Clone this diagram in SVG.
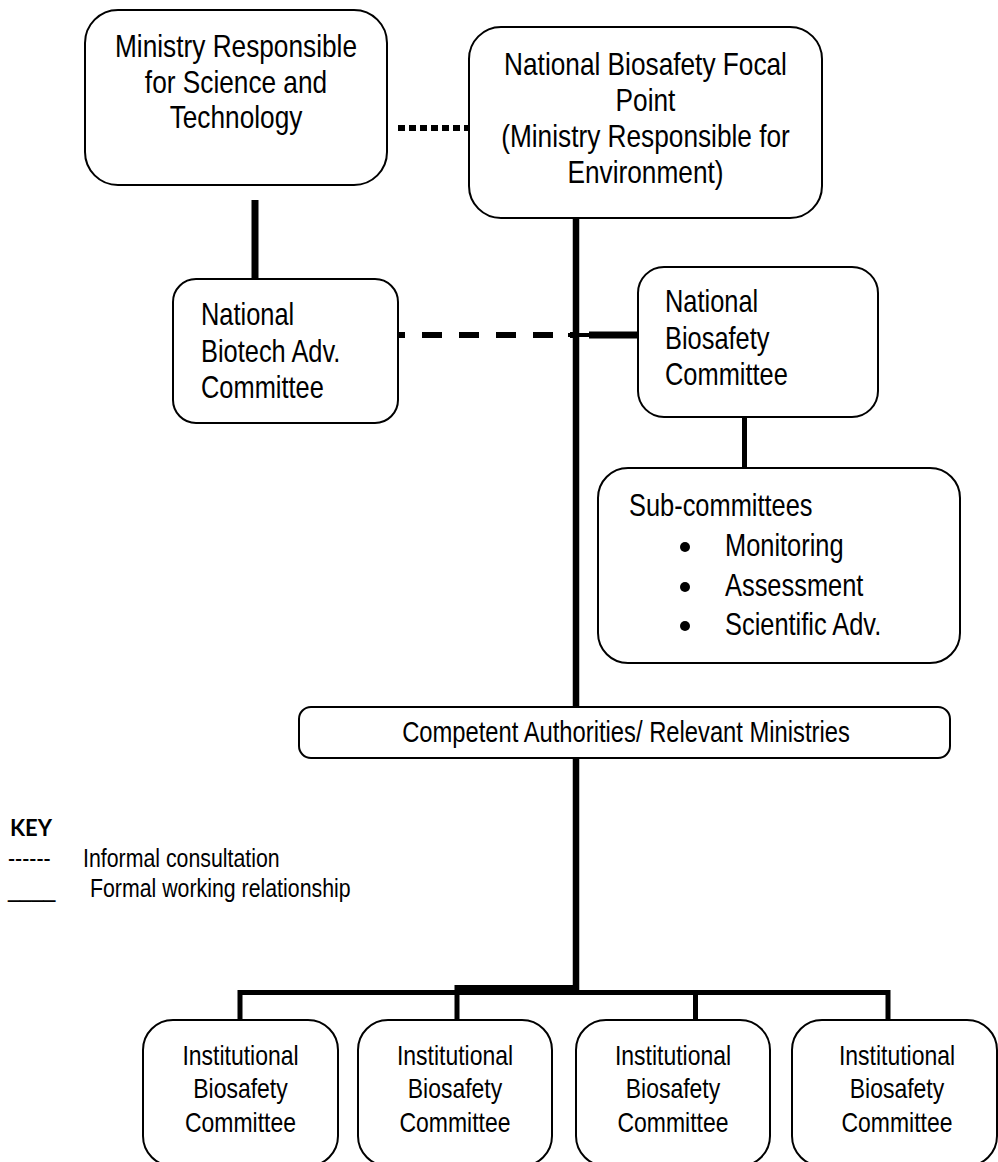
<svg xmlns="http://www.w3.org/2000/svg" width="998" height="1162" viewBox="0 0 998 1162">
<style>
.box{fill:#fff;stroke:#000;stroke-width:2}
.t{font-family:'Liberation Sans','Arimo',Arial,sans-serif;fill:#000}
.c{text-anchor:middle}
.big{font-size:32px}
.mid{font-size:31px}
.sm{font-size:28px}
.key{font-size:26px}
.ln{stroke:#000;fill:none}
</style>
<rect width="998" height="1162" fill="#fff"/>
<g id="connectors">
  <line class="ln" x1="398" y1="128" x2="475" y2="128" stroke-width="6" stroke-dasharray="7 4"/>
  <line class="ln" x1="255" y1="200" x2="255" y2="293" stroke-width="7"/>
  <line class="ln" x1="576" y1="216" x2="576" y2="708" stroke-width="6.5"/>
  <line class="ln" x1="398" y1="335" x2="575" y2="335" stroke-width="6" stroke-dasharray="20 17" stroke-dashoffset="13"/>
  <line class="ln" x1="568" y1="335" x2="590" y2="335" stroke-width="4"/>
  <line class="ln" x1="589" y1="335" x2="639" y2="335" stroke-width="7"/>
  <line class="ln" x1="744.5" y1="400" x2="744.5" y2="469" stroke-width="5"/>
  <line class="ln" x1="576" y1="757" x2="576" y2="990" stroke-width="6.5"/>
  <polyline class="ln" points="457,1020 457,987.5 578,987.5" stroke-width="5"/>
  <polyline class="ln" points="240,1020 240,992.5 888,992.5 888,1020" stroke-width="5"/>
  <line class="ln" x1="695.5" y1="992.5" x2="695.5" y2="1020" stroke-width="5"/>
</g>
<g id="n-ministry-st">
  <rect class="box" x="85" y="10" width="302" height="175" rx="33"/>
  <g transform="translate(236 0) scale(0.82 1)">
    <text class="t c big" x="0" y="57">Ministry Responsible</text>
    <text class="t c big" x="0" y="93">for Science and</text>
    <text class="t c big" x="0" y="128">Technology</text>
  </g>
</g>
<g id="n-focal-point">
  <rect class="box" x="469" y="27" width="353" height="191" rx="32"/>
  <g transform="translate(645.5 0) scale(0.82 1)">
    <text class="t c big" x="0" y="75">National Biosafety Focal</text>
    <text class="t c big" x="0" y="111">Point</text>
    <text class="t c big" x="0" y="147">(Ministry Responsible for</text>
    <text class="t c big" x="0" y="183">Environment)</text>
  </g>
</g>
<g id="n-biotech-adv">
  <rect class="box" x="173" y="279" width="225" height="144" rx="23"/>
  <g transform="translate(201 0) scale(0.82 1)">
    <text class="t mid" x="0" y="325">National</text>
    <text class="t mid" x="0" y="362">Biotech Adv.</text>
    <text class="t mid" x="0" y="398">Committee</text>
  </g>
</g>
<g id="n-biosafety-committee">
  <rect class="box" x="638" y="267" width="240" height="150" rx="26"/>
  <g transform="translate(665 0) scale(0.82 1)">
    <text class="t mid" x="0" y="312">National</text>
    <text class="t mid" x="0" y="349">Biosafety</text>
    <text class="t mid" x="0" y="385">Committee</text>
  </g>
</g>
<g id="n-subcommittees">
  <rect class="box" x="598" y="468" width="362" height="195" rx="30"/>
  <circle cx="685" cy="547" r="5"/>
  <circle cx="685" cy="587" r="5"/>
  <circle cx="685" cy="626" r="5"/>
  <g transform="translate(629 0) scale(0.82 1)">
    <text class="t mid" x="0" y="516">Sub-committees</text>
  </g>
  <g transform="translate(725 0) scale(0.82 1)">
    <text class="t mid" x="0" y="556">Monitoring</text>
    <text class="t mid" x="0" y="596">Assessment</text>
    <text class="t mid" x="0" y="635">Scientific Adv.</text>
  </g>
</g>
<g id="n-competent">
  <rect class="box" x="299" y="707" width="651" height="51" rx="12"/>
  <g transform="translate(626 0) scale(0.82 1)">
    <text class="t c" font-size="29" x="0" y="742">Competent Authorities/ Relevant Ministries</text>
  </g>
</g>
<g id="n-ibc-1">
  <rect class="box" x="143" y="1020" width="195" height="146" rx="30"/>
  <g transform="translate(240.5 0) scale(0.82 1)">
    <text class="t c sm" x="0" y="1065">Institutional</text>
    <text class="t c sm" x="0" y="1098">Biosafety</text>
    <text class="t c sm" x="0" y="1132">Committee</text>
  </g>
</g>
<g id="n-ibc-2">
  <rect class="box" x="358" y="1020" width="194" height="146" rx="30"/>
  <g transform="translate(455 0) scale(0.82 1)">
    <text class="t c sm" x="0" y="1065">Institutional</text>
    <text class="t c sm" x="0" y="1098">Biosafety</text>
    <text class="t c sm" x="0" y="1132">Committee</text>
  </g>
</g>
<g id="n-ibc-3">
  <rect class="box" x="576" y="1020" width="194" height="146" rx="30"/>
  <g transform="translate(673 0) scale(0.82 1)">
    <text class="t c sm" x="0" y="1065">Institutional</text>
    <text class="t c sm" x="0" y="1098">Biosafety</text>
    <text class="t c sm" x="0" y="1132">Committee</text>
  </g>
</g>
<g id="n-ibc-4">
  <rect class="box" x="792" y="1020" width="205" height="146" rx="30"/>
  <g transform="translate(897 0) scale(0.82 1)">
    <text class="t c sm" x="0" y="1065">Institutional</text>
    <text class="t c sm" x="0" y="1098">Biosafety</text>
    <text class="t c sm" x="0" y="1132">Committee</text>
  </g>
</g>
<g id="key">
  <text x="10" y="836" font-family="Lato,'Open Sans',sans-serif" font-weight="bold" font-size="22">KEY</text>
  <g transform="translate(8 0) scale(0.82 1)">
    <text class="t key" x="0" y="867">------</text>
    <text class="t key" x="0" y="897">____</text>
  </g>
  <g transform="translate(83 0) scale(0.82 1)">
    <text class="t key" x="0" y="867">Informal consultation</text>
  </g>
  <g transform="translate(90 0) scale(0.82 1)">
    <text class="t key" x="0" y="897">Formal working relationship</text>
  </g>
</g>
</svg>
